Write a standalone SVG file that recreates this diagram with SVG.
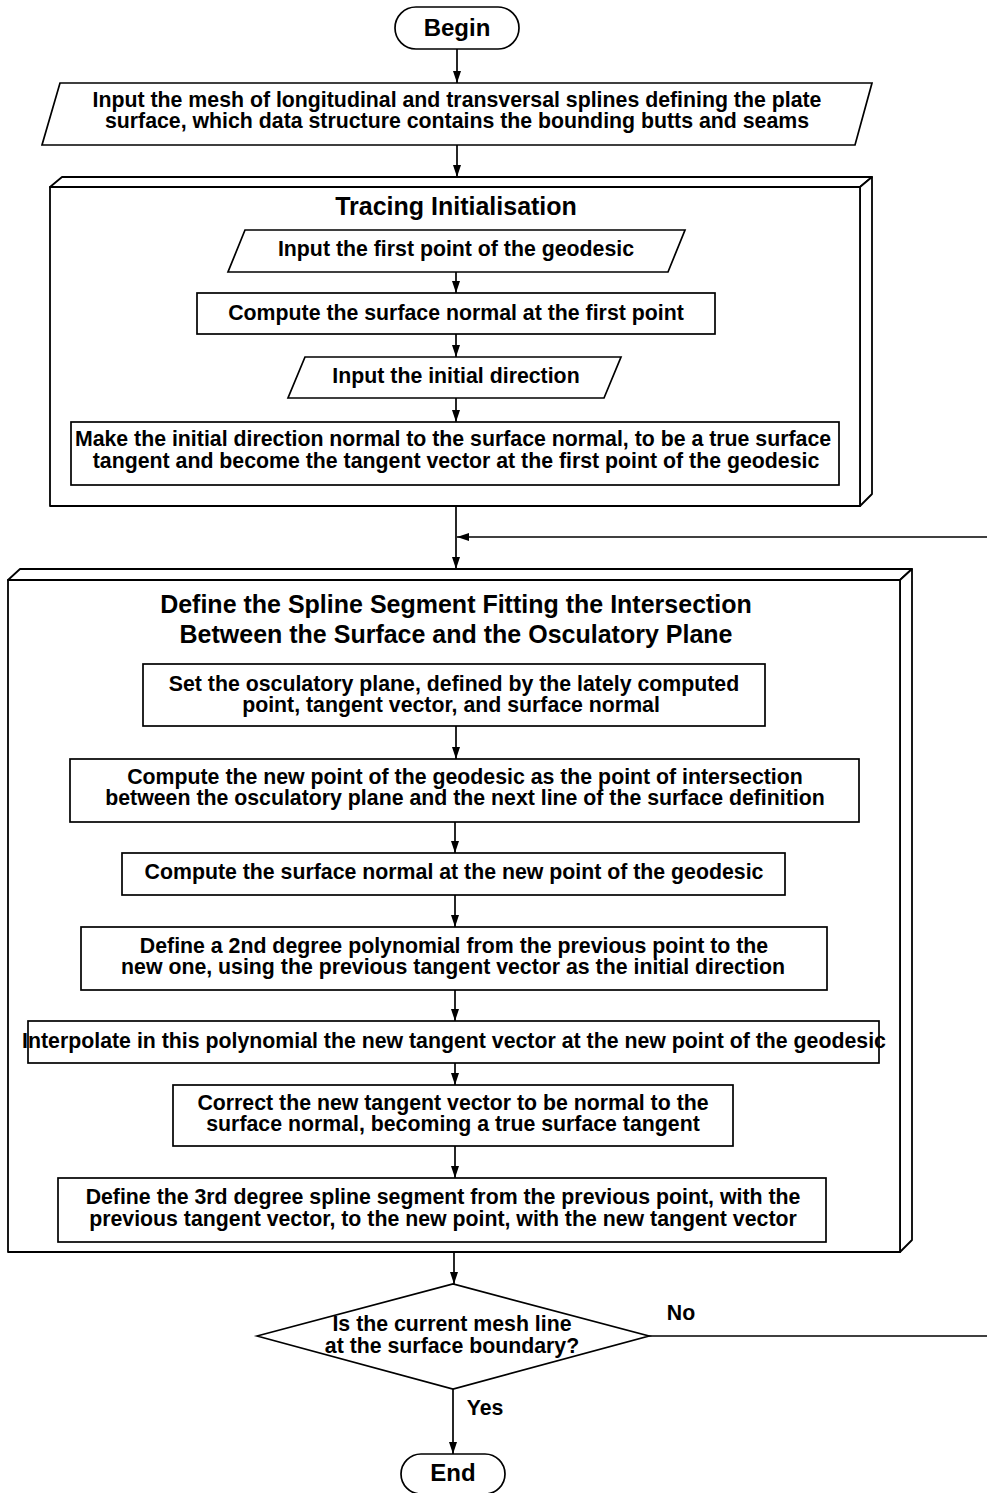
<svg xmlns="http://www.w3.org/2000/svg" width="987" height="1493" viewBox="0 0 987 1493">
  <style>
    .shape { fill: #ffffff; stroke: #000000; stroke-width: 1.7; }
    .face { fill: #ffffff; stroke: #000000; stroke-width: 1.8; stroke-linejoin: round; }
    .wire { fill: none; stroke: #000000; stroke-width: 1.7; }
    text { font-family: "Liberation Sans", Arial, sans-serif; font-weight: bold; fill: #000000; text-anchor: middle; }
    .t { font-size: 21.3px; }
    .title { font-size: 25px; }
    .term { font-size: 24px; }
  </style>
  <defs>
    <marker id="arrow" viewBox="0 0 12 9" refX="12" refY="4.5" markerWidth="12" markerHeight="9" markerUnits="userSpaceOnUse" orient="auto">
      <path d="M0,0.5 L12,4.5 L0,8.5 Z" fill="#000000"/>
    </marker>
  </defs>

  <rect width="987" height="1493" fill="#ffffff"/>

  <!-- start -->
  <g id="begin">
    <rect class="shape" x="395" y="7" width="124" height="42" rx="21" ry="21"/>
    <text class="term" x="457" y="36">Begin</text>
  </g>

  <!-- mesh input -->
  <g id="input-mesh">
    <polygon class="shape" points="60,83 872,83 855,145 42,145"/>
    <text class="t" x="457" y="107">Input the mesh of longitudinal and transversal splines defining the plate</text>
    <text class="t" x="457" y="128">surface, which data structure contains the bounding butts and seams</text>
  </g>

  <!-- initialisation block -->
  <g id="tracing-init">
    <polygon class="face" points="50,187 62,177 872,177 860,187"/>
    <polygon class="face" points="860,187 872,177 872,494 860,506"/>
    <rect class="face" x="50" y="187" width="810" height="319"/>
    <text class="title" x="456" y="215">Tracing Initialisation</text>
  </g>

  <g id="input-first-point">
    <polygon class="shape" points="245,230 685,230 668,272 228,272"/>
    <text class="t" x="456" y="256">Input the first point of the geodesic</text>
  </g>

  <g id="normal-first-point">
    <rect class="shape" x="197" y="293" width="518" height="41"/>
    <text class="t" x="456" y="320">Compute the surface normal at the first point</text>
  </g>

  <g id="input-direction">
    <polygon class="shape" points="305,357 621,357 604,398 288,398"/>
    <text class="t" x="456" y="383">Input the initial direction</text>
  </g>

  <g id="initial-tangent">
    <rect class="shape" x="71" y="422" width="768" height="63"/>
    <text class="t" x="453" y="446">Make the initial direction normal to the surface normal, to be a true surface</text>
    <text class="t" x="456" y="468">tangent and become the tangent vector at the first point of the geodesic</text>
  </g>

  <!-- spline segment block -->
  <g id="spline-segment">
    <polygon class="face" points="8,580 20,569 912,569 900,580"/>
    <polygon class="face" points="900,580 912,569 912,1240 900,1252"/>
    <rect class="face" x="8" y="580" width="892" height="672"/>
    <text class="title" x="456" y="613">Define the Spline Segment Fitting the Intersection</text>
    <text class="title" x="456" y="643">Between the Surface and the Osculatory Plane</text>
  </g>

  <g id="osculatory-plane">
    <rect class="shape" x="143" y="664" width="622" height="62"/>
    <text class="t" x="454" y="691">Set the osculatory plane, defined by the lately computed</text>
    <text class="t" x="451" y="712">point, tangent vector, and surface normal</text>
  </g>

  <g id="new-point">
    <rect class="shape" x="70" y="759" width="789" height="63"/>
    <text class="t" x="465" y="784">Compute the new point of the geodesic as the point of intersection</text>
    <text class="t" x="465" y="805">between the osculatory plane and the next line of the surface definition</text>
  </g>

  <g id="normal-new-point">
    <rect class="shape" x="122" y="853" width="663" height="42"/>
    <text class="t" x="454" y="879">Compute the surface normal at the new point of the geodesic</text>
  </g>

  <g id="polynomial">
    <rect class="shape" x="81" y="927" width="746" height="63"/>
    <text class="t" x="454" y="953">Define a 2nd degree polynomial from the previous point to the</text>
    <text class="t" x="453" y="974">new one, using the previous tangent vector as the initial direction</text>
  </g>

  <g id="interpolate">
    <rect class="shape" x="28" y="1021" width="851" height="42"/>
    <text class="t" x="454" y="1048">Interpolate in this polynomial the new tangent vector at the new point of the geodesic</text>
  </g>

  <g id="correct-tangent">
    <rect class="shape" x="173" y="1085" width="560" height="61"/>
    <text class="t" x="453" y="1110">Correct the new tangent vector to be normal to the</text>
    <text class="t" x="453" y="1131">surface normal, becoming a true surface tangent</text>
  </g>

  <g id="cubic-segment">
    <rect class="shape" x="58" y="1178" width="768" height="64"/>
    <text class="t" x="443" y="1204">Define the 3rd degree spline segment from the previous point, with the</text>
    <text class="t" x="443" y="1226">previous tangent vector, to the new point, with the new tangent vector</text>
  </g>

  <!-- boundary test -->
  <g id="boundary-test">
    <polygon class="shape" points="257,1336 453,1284 649,1336 453,1389"/>
    <text class="t" x="452" y="1331">Is the current mesh line</text>
    <text class="t" x="452" y="1353">at the surface boundary?</text>
  </g>

  <!-- finish -->
  <g id="end">
    <rect class="shape" x="401" y="1454" width="104" height="40" rx="20" ry="20"/>
    <text class="term" x="453" y="1481">End</text>
  </g>

  <!-- connectors, drawn over the container blocks -->
  <g id="connectors">
    <line class="wire" x1="457" y1="49" x2="457" y2="83" marker-end="url(#arrow)"/>
    <line class="wire" x1="457" y1="145" x2="457" y2="177" marker-end="url(#arrow)"/>
    <line class="wire" x1="456" y1="272" x2="456" y2="293" marker-end="url(#arrow)"/>
    <line class="wire" x1="456" y1="334" x2="456" y2="357" marker-end="url(#arrow)"/>
    <line class="wire" x1="456" y1="398" x2="456" y2="422" marker-end="url(#arrow)"/>
    <line class="wire" x1="456" y1="506" x2="456" y2="569" marker-end="url(#arrow)"/>
    <line class="wire" x1="987" y1="537" x2="457" y2="537" marker-end="url(#arrow)"/>
    <line class="wire" x1="456" y1="726" x2="456" y2="759" marker-end="url(#arrow)"/>
    <line class="wire" x1="455" y1="822" x2="455" y2="853" marker-end="url(#arrow)"/>
    <line class="wire" x1="455" y1="895" x2="455" y2="927" marker-end="url(#arrow)"/>
    <line class="wire" x1="455" y1="990" x2="455" y2="1021" marker-end="url(#arrow)"/>
    <line class="wire" x1="455" y1="1063" x2="455" y2="1085" marker-end="url(#arrow)"/>
    <line class="wire" x1="455" y1="1146" x2="455" y2="1178" marker-end="url(#arrow)"/>
    <line class="wire" x1="454" y1="1252" x2="454" y2="1284" marker-end="url(#arrow)"/>
    <line class="wire" x1="453" y1="1389" x2="453" y2="1454" marker-end="url(#arrow)"/>
    <line class="wire" x1="649" y1="1336" x2="987" y2="1336"/>
    <text class="t" x="681" y="1320">No</text>
    <text class="t" x="485" y="1415">Yes</text>
  </g>
</svg>
